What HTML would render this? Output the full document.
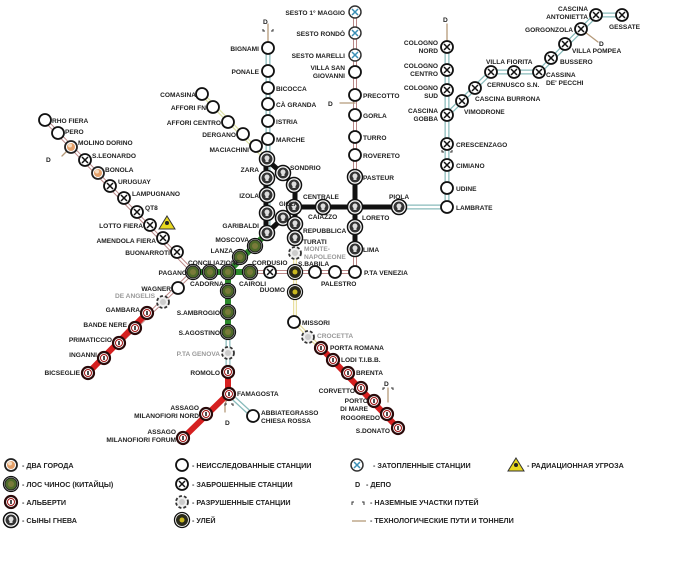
<!DOCTYPE html>
<html><head><meta charset="utf-8"><style>
html,body{margin:0;padding:0;background:#fff;}
svg{display:block}
text{font-family:"Liberation Sans","DejaVu Sans",sans-serif;font-weight:bold;font-size:6.6px;fill:#222}
.g{fill:#999}
.lg{font-size:7.2px}
</style></head><body>
<svg width="685" height="574" viewBox="0 0 685 574" xmlns="http://www.w3.org/2000/svg">
<defs>
<g id="o"><circle r="6" fill="#fff" stroke="#111" stroke-width="1.8"/></g>
<g id="x"><circle r="6" fill="#fff" stroke="#111" stroke-width="1.8"/><path d="M-3,-3L3,3M3,-3L-3,3" stroke="#111" stroke-width="1.5"/></g>
<g id="xb"><circle r="6" fill="#fff" stroke="#333" stroke-width="1.5"/><path d="M-3,-3L3,3M3,-3L-3,3" stroke="#3a8fb5" stroke-width="1.5"/></g>
<g id="sk"><circle r="7.5" fill="#fff" stroke="#111" stroke-width="1.5"/><circle r="5.5" fill="#333"/><circle cy="-1" r="2.5" fill="#ddd"/><rect x="-1.5" y="1" width="3" height="2" fill="#ddd"/></g>
<g id="gr"><circle r="7.5" fill="#fff" stroke="#111" stroke-width="1.3"/><circle r="6" fill="#4f6b2a" stroke="#222" stroke-width="1"/><circle r="3" fill="#7a7a3a"/></g>
<g id="rd"><circle r="6" fill="#fff" stroke="#2a0a0a" stroke-width="2.2"/><circle r="3.5" fill="#fff" stroke="#a01010" stroke-width="1"/><rect x="-0.8" y="-2" width="1.6" height="4" fill="#222"/></g>
<g id="de"><circle r="6" fill="#eee" stroke="#333" stroke-width="1.8" stroke-dasharray="3 2"/><circle r="3" fill="#ccc"/></g>
<g id="hv"><circle r="7.5" fill="#fff" stroke="#111" stroke-width="1.3"/><circle r="6" fill="#2a2a1a"/><circle r="2.5" fill="#c9b820"/></g>
<g id="tc"><circle r="6" fill="#fff" stroke="#222" stroke-width="1.8"/><circle r="4" fill="#e3a06a"/><circle cx="-1" cy="-1.5" r="2" fill="#f6dcc0"/></g>
<g id="rad"><path d="M0,-7L8,6H-8Z" fill="#e8d81e" stroke="#333" stroke-width="1"/><circle r="2" fill="#222"/></g>
</defs>

<!-- base tracks -->
<g fill="none" stroke-linecap="round">
<!-- M1 red-brown thin double -->
<g stroke="#b88" stroke-width="4"><path d="M355,10V272H193L45,120M193,272L88,373"/></g>
<g stroke="#fff" stroke-width="2"><path d="M355,10V272H193L45,120M193,272L88,373"/></g>
<!-- M2 teal double -->
<g stroke="#8bb" stroke-width="5"><path d="M268,45V233M399,207H447V47M447,115L491,72H539L596,15H622M228,272V393L253,416"/></g>
<g stroke="#fff" stroke-width="2.5"><path d="M268,45V233M399,207H447V47M447,115L491,72H539L596,15H622M228,272V393L253,416"/></g>
<!-- M3 yellow -->
<g stroke="#e9e0a0" stroke-width="4"><path d="M295,253V322L398,428"/></g>
<g stroke="#fff" stroke-width="1.5"><path d="M295,253V322L398,428"/></g>
<!-- M5 -->
<g stroke="#dfe3a8" stroke-width="4"><path d="M202,94L266,159"/></g>
<g stroke="#fff" stroke-width="1.5"><path d="M202,94L266,159"/></g>
<!-- controlled: black -->
<g stroke="#111" stroke-width="5"><path d="M266,159L295,185V237M293,207H399M355,177V249M267,233L283,218L293,207M266,159V233"/></g>
<!-- green -->
<g stroke="#2e8a2e" stroke-width="6"><path d="M267,233L228,272M193,272H252M228,272V332"/></g>
<!-- red -->
<g stroke="#d52020" stroke-width="6"><path d="M147,313L88,373M228,372V394L183,438M321,348L398,428"/></g>
<!-- tech tracks -->
<g stroke="#b59a7a" stroke-width="1.3"><path d="M268,45V24M447,47V24M581,29L598,42M340,103H355M71,147L62,156M388,402V388M229,394L225,404V412"/></g>
</g>
<text x="263" y="24">D</text><text x="443" y="22">D</text><text x="599" y="46">D</text><text x="328" y="106">D</text><text x="46" y="162">D</text><text x="384" y="386">D</text><text x="225" y="425">D</text>
<path d="M263,29v2h2M273,29v2h-2M442,150v2h2M452,150v2h-2M383,390v-2h2M393,390v-2h-2M225,406v-2h2M233,406v-2h-2" stroke="#333" fill="none" stroke-width="1"/>

<!-- stations -->
<use href="#o" x="268" y="48"/><use href="#o" x="268" y="71"/><use href="#o" x="268" y="88"/><use href="#o" x="268" y="104"/><use href="#o" x="268" y="121"/><use href="#o" x="268" y="139"/>
<use href="#sk" x="267" y="159"/><use href="#sk" x="267" y="178"/><use href="#sk" x="267" y="195"/><use href="#sk" x="267" y="213"/><use href="#sk" x="267" y="233"/>
<use href="#sk" x="283" y="173"/><use href="#sk" x="294" y="185"/><use href="#sk" x="294" y="207"/><use href="#sk" x="283" y="218"/><use href="#sk" x="295" y="224"/><use href="#sk" x="295" y="238"/>
<use href="#sk" x="323" y="207"/><use href="#sk" x="355" y="207"/><use href="#sk" x="355" y="227"/><use href="#sk" x="355" y="177"/><use href="#sk" x="355" y="249"/><use href="#sk" x="399" y="207"/>
<use href="#o" x="447" y="207"/><use href="#o" x="447" y="188"/><use href="#x" x="447" y="165"/><use href="#x" x="447" y="144"/><use href="#x" x="447" y="115"/><use href="#x" x="447" y="90"/><use href="#x" x="447" y="70"/><use href="#x" x="447" y="47"/>
<use href="#x" x="462" y="101"/><use href="#x" x="475" y="88"/><use href="#x" x="491" y="72"/><use href="#x" x="514" y="72"/><use href="#x" x="539" y="72"/><use href="#x" x="551" y="58"/><use href="#x" x="565" y="44"/><use href="#x" x="581" y="29"/><use href="#x" x="596" y="15"/><use href="#x" x="622" y="15"/>
<use href="#xb" x="355" y="12"/><use href="#xb" x="355" y="33"/><use href="#xb" x="355" y="55"/><use href="#o" x="355" y="72"/><use href="#o" x="355" y="95"/><use href="#o" x="355" y="115"/><use href="#o" x="355" y="137"/><use href="#o" x="355" y="155"/>
<use href="#o" x="355" y="272"/><use href="#o" x="335" y="272"/><use href="#o" x="315" y="272"/><use href="#hv" x="295" y="272"/><use href="#x" x="270" y="272"/>
<use href="#gr" x="250" y="272"/><use href="#gr" x="228" y="272"/><use href="#gr" x="210" y="272"/><use href="#gr" x="193" y="272"/><use href="#gr" x="240" y="257"/><use href="#gr" x="255" y="246"/>
<use href="#gr" x="228" y="291"/><use href="#gr" x="228" y="312"/><use href="#gr" x="228" y="332"/><use href="#de" x="228" y="353"/><use href="#rd" x="228" y="372"/><use href="#rd" x="229" y="394"/><use href="#rd" x="206" y="414"/><use href="#rd" x="183" y="438"/><use href="#o" x="253" y="416"/>
<use href="#de" x="295" y="253"/><use href="#hv" x="295" y="292"/><use href="#o" x="294" y="322"/><use href="#de" x="308" y="337"/><use href="#rd" x="321" y="348"/><use href="#rd" x="333" y="360"/><use href="#rd" x="348" y="373"/><use href="#rd" x="361" y="388"/><use href="#rd" x="374" y="401"/><use href="#rd" x="387" y="414"/><use href="#rd" x="398" y="428"/>
<use href="#o" x="178" y="288"/><use href="#de" x="163" y="302"/><use href="#rd" x="147" y="313"/><use href="#rd" x="135" y="328"/><use href="#rd" x="119" y="343"/><use href="#rd" x="104" y="358"/><use href="#rd" x="88" y="373"/>
<use href="#o" x="45" y="120"/><use href="#o" x="58" y="133"/><use href="#tc" x="71" y="147"/><use href="#x" x="85" y="160"/><use href="#tc" x="98" y="173"/><use href="#x" x="110" y="186"/><use href="#x" x="124" y="198"/><use href="#x" x="137" y="212"/><use href="#x" x="150" y="225"/><use href="#x" x="163" y="238"/><use href="#x" x="177" y="252"/>
<use href="#rad" x="167" y="223"/>
<use href="#o" x="202" y="94"/><use href="#o" x="213" y="107"/><use href="#o" x="228" y="122"/><use href="#o" x="243" y="134"/><use href="#o" x="256" y="146"/>

<!-- labels -->
<g text-anchor="end">
<text x="259" y="51">BIGNAMI</text><text x="259" y="74">PONALE</text>
<text x="196" y="97">COMASINA</text><text x="206" y="110">AFFORI FN</text><text x="221" y="125">AFFORI CENTRO</text><text x="236" y="137">DERGANO</text><text x="249" y="152">MACIACHINI</text>
<text x="259" y="172">ZARA</text><text x="259" y="198">IZOLA</text><text x="259" y="228">GARIBALDI</text><text x="249" y="242">MOSCOVA</text><text x="233" y="253">LANZA</text>
<text x="187" y="275">PAGANO</text><text x="171" y="291">WAGNER</text><text class="g" x="155" y="298">DE ANGELIS</text><text x="140" y="312">GAMBARA</text><text x="127" y="327">BANDE NERE</text><text x="112" y="342">PRIMATICCIO</text><text x="97" y="357">INGANNI</text><text x="80" y="375">BICSEGLIE</text>
<text x="143" y="228">LOTTO FIERA</text><text x="156" y="243">AMENDOLA FIERA</text><text x="170" y="255">BUONARROTI</text>
<text x="220" y="315">S.AMBROGIO</text><text x="220" y="335">S.AGOSTINO</text><text class="g" x="220" y="356">P.TA GENOVA</text><text x="220" y="375">ROMOLO</text>
<text x="199" y="410">ASSAGO</text><text x="199" y="418">MILANOFIORI NORD</text><text x="176" y="434">ASSAGO</text><text x="176" y="442">MILANOFIORI FORUM</text>
<text x="285" y="292">DUOMO</text><text x="355" y="393">CORVETTO</text><text x="368" y="403">PORTO</text><text x="368" y="411">DI MARE</text><text x="380" y="420">ROGOREDO</text><text x="390" y="433">S.DONATO</text>
<text x="345" y="15">SESTO 1° MAGGIO</text><text x="345" y="36">SESTO RONDÒ</text><text x="345" y="58">SESTO MARELLI</text><text x="345" y="70">VILLA SAN</text><text x="345" y="78">GIOVANNI</text>
<text x="438" y="45">COLOGNO</text><text x="438" y="53">NORD</text><text x="438" y="68">COLOGNO</text><text x="438" y="76">CENTRO</text><text x="438" y="90">COLOGNO</text><text x="438" y="98">SUD</text><text x="438" y="113">CASCINA</text><text x="438" y="121">GOBBA</text>
<text x="573" y="32">GORGONZOLA</text><text x="588" y="11">CASCINA</text><text x="588" y="19">ANTONIETTA</text>
</g>
<text x="276" y="91">BICOCCA</text><text x="276" y="107">CÀ GRANDA</text><text x="276" y="124">ISTRIA</text><text x="276" y="142">MARCHE</text>
<text x="290" y="170">SONDRIO</text><text x="303" y="199">CENTRALE</text><text x="279" y="206" style="font-size:6px">GIOLA</text><text x="308" y="219">CAIAZZO</text><text x="303" y="233">REPUBBLICA</text><text x="303" y="244">TURATI</text>
<text class="g" x="304" y="251">MONTE-</text><text class="g" x="304" y="259">NAPOLEONE</text><text x="298" y="266">S.BABILA</text><text x="252" y="265">CORDUSIO</text><text x="188" y="265">CONCILIAZIONE</text>
<text x="190" y="286">CADORNA</text><text x="239" y="286">CAIROLI</text><text x="321" y="286">PALESTRO</text><text x="364" y="275">P.TA VENEZIA</text>
<text x="363" y="98">PRECOTTO</text><text x="363" y="118">GORLA</text><text x="363" y="140">TURRO</text><text x="363" y="158">ROVERETO</text><text x="363" y="180">PASTEUR</text><text x="362" y="220">LORETO</text><text x="363" y="252">LIMA</text>
<text x="389" y="199">PIOLA</text><text x="456" y="147">CRESCENZAGO</text><text x="456" y="168">CIMIANO</text><text x="456" y="191">UDINE</text><text x="456" y="210">LAMBRATE</text>
<text x="464" y="114">VIMODRONE</text><text x="475" y="101">CASCINA BURRONA</text><text x="486" y="64">VILLA FIORITA</text><text x="487" y="87">CERNUSCO S.N.</text><text x="546" y="77">CASSINA</text><text x="546" y="85">DE' PECCHI</text>
<text x="560" y="64">BUSSERO</text><text x="572" y="53">VILLA POMPEA</text><text x="609" y="29">GESSATE</text>
<text x="52" y="123">RHO FIERA</text><text x="65" y="134">PERO</text><text x="78" y="145">MOLINO DORINO</text><text x="92" y="158">S.LEONARDO</text><text x="105" y="172">BONOLA</text><text x="118" y="184">URUGUAY</text><text x="132" y="196">LAMPUGNANO</text><text x="145" y="210">QT8</text>
<text x="302" y="325">MISSORI</text><text class="g" x="317" y="338">CROCETTA</text><text x="330" y="350">PORTA ROMANA</text><text x="341" y="362">LODI T.I.B.B.</text><text x="356" y="375">BRENTA</text>
<text x="237" y="396">FAMAGOSTA</text><text x="261" y="415">ABBIATEGRASSO</text><text x="261" y="423">CHIESA ROSSA</text>

<!-- legend -->
<use href="#tc" x="11" y="465"/><use href="#gr" x="11" y="484"/><use href="#rd" x="11" y="502"/><use href="#sk" x="11" y="520"/>
<text class="lg" x="22" y="468">- ДВА ГОРОДА</text><text class="lg" x="22" y="487">- ЛОС ЧИНОС (КИТАЙЦЫ)</text><text class="lg" x="22" y="505">- АЛЬБЕРТИ</text><text class="lg" x="22" y="523">- СЫНЫ ГНЕВА</text>
<use href="#o" x="182" y="465"/><use href="#x" x="182" y="484"/><use href="#de" x="182" y="502"/><use href="#hv" x="182" y="520"/>
<text class="lg" x="192" y="468">- НЕИССЛЕДОВАННЫЕ СТАНЦИИ</text><text class="lg" x="192" y="487">- ЗАБРОШЕННЫЕ СТАНЦИИ</text><text class="lg" x="192" y="505">- РАЗРУШЕННЫЕ СТАНЦИИ</text><text class="lg" x="192" y="523">- УЛЕЙ</text>
<use href="#xb" x="357" y="465"/><text class="lg" x="355" y="487">D</text><path d="M352,505v-3h2M362,502h2v3" stroke="#333" fill="none" stroke-width="1"/><path d="M352,521H366" stroke="#b59a7a" stroke-width="1.3"/>
<text class="lg" x="373" y="468">- ЗАТОПЛЕННЫЕ СТАНЦИИ</text><text class="lg" x="366" y="487">- ДЕПО</text><text class="lg" x="370" y="505">- НАЗЕМНЫЕ УЧАСТКИ ПУТЕЙ</text><text class="lg" x="370" y="523">- ТЕХНОЛОГИЧЕСКИЕ ПУТИ И ТОННЕЛИ</text>
<use href="#rad" x="516" y="465"/><text class="lg" x="527" y="468">- РАДИАЦИОННАЯ УГРОЗА</text>
</svg>
</body></html>
